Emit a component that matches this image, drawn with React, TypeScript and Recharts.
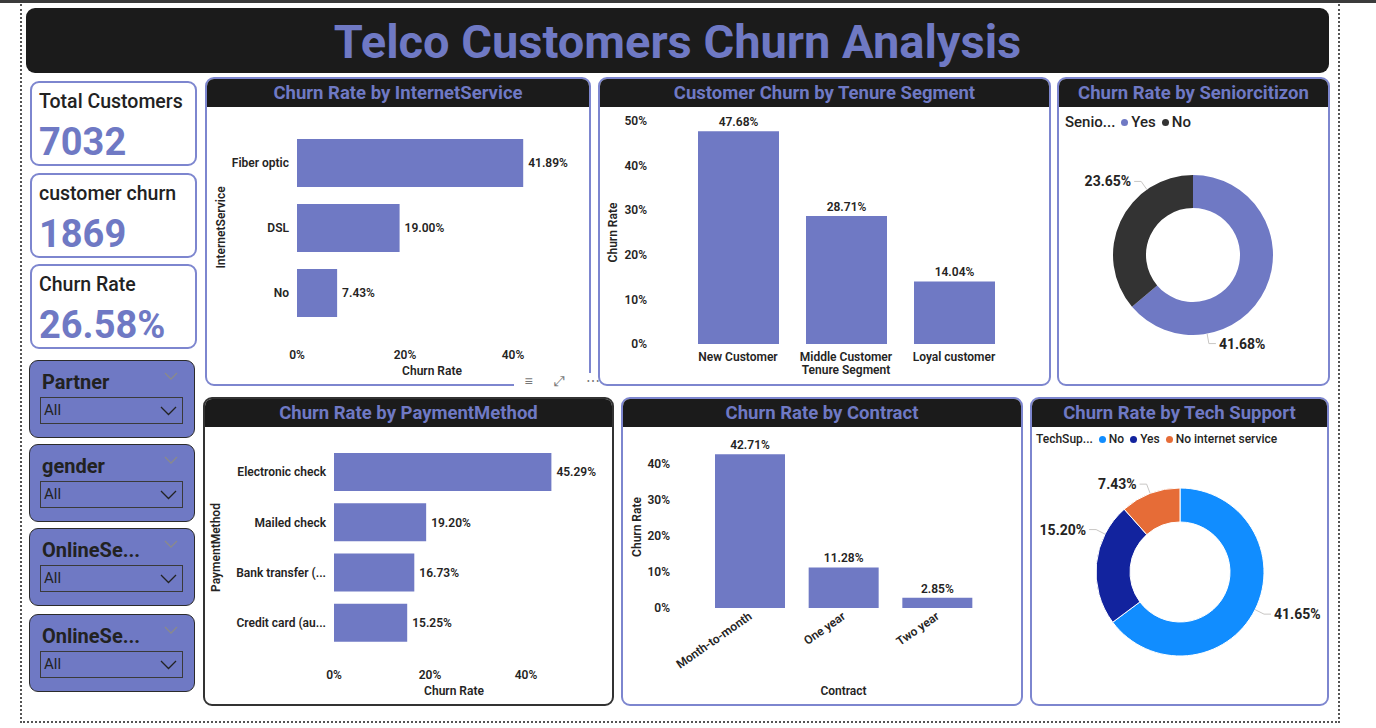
import React from "react";
import { BarChart, Bar, XAxis, YAxis, LabelList, PieChart, Pie, Cell } from "recharts";

const PURPLE = "#6f79c4";
const BORDER = "#7d86cf";
const TEXT = "#252423";
const FONT = "Roboto, 'Open Sans', sans-serif";

const internetServices = ["Fiber optic", "DSL", "No"];
const internetChurn = [41.89, 19.0, 7.43];

const tenureSegments = ["New Customer", "Middle Customer", "Loyal customer"];
const tenureChurn = [47.68, 28.71, 14.04];

const seniorLabels = ["Yes", "No"];
const seniorChurn = [41.68, 23.65];
const seniorColors = [PURPLE, "#333333"];

const paymentMethods = ["Electronic check", "Mailed check", "Bank transfer (automatic)", "Credit card (automatic)"];
const paymentChurn = [45.29, 19.2, 16.73, 15.25];

const contracts = ["Month-to-month", "One year", "Two year"];
const contractChurn = [42.71, 11.28, 2.85];

const techSupport = ["No", "Yes", "No internet service"];
const techChurn = [41.65, 15.2, 7.43];
const techColors = ["#118dff", "#12239e", "#e66c37"];

const kpiTitles = ["Total Customers", "customer churn", "Churn Rate"];
const kpiValues = ["7032", "1869", "26.58%"];

const slicerNames = ["Partner", "gender", "OnlineSecurity", "OnlineService"];

const pct = (v: number) => `${v.toFixed(2)}%`;
const axisPct = (v: number) => `${v}%`;
const trunc = (s: string, n: number) => (s.length > n + 1 ? s.slice(0, n) + "..." : s);

const tickStyle = { fontSize: 12, fontWeight: 600, fill: TEXT, fontFamily: FONT };
const labelStyle = { fontSize: 12, fontWeight: 600, fill: TEXT, fontFamily: FONT };

function Panel({ left, top, width, height, title, border = BORDER, children }: any) {
  return (
    <div
      style={{
        position: "absolute",
        left,
        top,
        width,
        height,
        boxSizing: "border-box",
        border: `2px solid ${border}`,
        borderRadius: 9,
        background: "#fff",
        overflow: "hidden",
      }}
    >
      <div
        style={{
          height: 28,
          background: "#1b1b1b",
          color: PURPLE,
          fontWeight: 700,
          fontSize: 18.5,
          textAlign: "center",
          lineHeight: "28px",
        }}
      >
        {title}
      </div>
      {children}
    </div>
  );
}

function Chevron({ color, w = 14 }: { color: string; w?: number }) {
  return (
    <svg width={w} height={w / 2 + 1} style={{ display: "block" }}>
      <polyline points={`1,1 ${w / 2},${w / 2} ${w - 1},1`} fill="none" stroke={color} strokeWidth={1.3} />
    </svg>
  );
}

function makeDonutLabel(shifts: number[]) {
  return (p: any) => {
    const RAD = Math.PI / 180;
    const a = (p.midAngle + (shifts[p.index] || 0)) * RAD;
    const cos = Math.cos(a);
    const sin = -Math.sin(a);
    const sx = p.cx + p.outerRadius * cos;
    const sy = p.cy + p.outerRadius * sin;
    const mx = p.cx + (p.outerRadius + 10) * cos;
    const my = p.cy + (p.outerRadius + 10) * sin;
    const right = cos >= 0;
    const ex = mx + (right ? 7 : -7);
    return (
      <g>
        <polyline points={`${sx},${sy} ${mx},${my} ${ex},${my}`} fill="none" stroke="#c8c6c4" />
        <text
          x={ex + (right ? 3 : -3)}
          y={my}
          textAnchor={right ? "start" : "end"}
          dominantBaseline="central"
          fontSize={14}
          fontWeight={700}
          fill={TEXT}
          fontFamily={FONT}
        >
          {pct(p.value)}
        </text>
      </g>
    );
  };
}

function DonutLegend({ title, names, colors, fontSize, left, top }: any) {
  return (
    <div
      style={{
        position: "absolute",
        left,
        top,
        display: "flex",
        alignItems: "center",
        gap: 6,
        fontSize,
        fontWeight: 500,
        color: TEXT,
        whiteSpace: "nowrap",
      }}
    >
      <span>{title}</span>
      {names.map((n: string, i: number) => (
        <span key={n} style={{ display: "flex", alignItems: "center", gap: 3 }}>
          <span style={{ width: 7, height: 7, borderRadius: 4, background: colors[i], display: "inline-block" }} />
          {n}
        </span>
      ))}
    </div>
  );
}

const RotatedTick = (props: any) => {
  const { x, y, payload } = props;
  return (
    <g transform={`translate(${x},${y})`}>
      <text x={0} y={0} dy={5} textAnchor="end" transform="rotate(-35)" {...tickStyle}>
        {payload.value}
      </text>
    </g>
  );
};

export default function App() {
  const internetData = internetServices.map((name, i) => ({ name, value: internetChurn[i] }));
  const tenureData = tenureSegments.map((name, i) => ({ name, value: tenureChurn[i] }));
  const seniorData = seniorLabels.map((name, i) => ({ name, value: seniorChurn[i] }));
  const paymentData = paymentMethods.map((name, i) => ({ name, value: paymentChurn[i] }));
  const contractData = contracts.map((name, i) => ({ name, value: contractChurn[i] }));
  const techData = techSupport.map((name, i) => ({ name, value: techChurn[i] }));

  return (
    <div
      style={{
        position: "fixed",
        left: 0,
        top: 0,
        width: 1376,
        height: 728,
        background: "#fff",
        fontFamily: FONT,
        overflow: "hidden",
      }}
    >
      {/* top strip + dotted page frame */}
      <div style={{ position: "absolute", left: 0, top: 0, width: 1376, height: 3, background: "#3b3b3b" }} />
      <div
        style={{
          position: "absolute",
          left: 20,
          top: 4,
          width: 1320,
          height: 719,
          boxSizing: "border-box",
          borderLeft: "2px dotted #555",
          borderRight: "2px dotted #555",
          borderBottom: "2px dotted #555",
        }}
      />

      {/* title banner */}
      <div
        style={{
          position: "absolute",
          left: 26,
          top: 8,
          width: 1303,
          height: 65,
          background: "#1b1b1b",
          borderRadius: 9,
          color: PURPLE,
          fontSize: 47,
          fontWeight: 700,
          textAlign: "center",
          lineHeight: "68px",
        }}
      >
        Telco Customers Churn Analysis
      </div>

      {/* KPI cards */}
      {kpiTitles.map((t, i) => (
        <div
          key={t}
          style={{
            position: "absolute",
            left: 30,
            top: [81, 173, 264][i],
            width: 167,
            height: 85,
            boxSizing: "border-box",
            border: `2px solid ${BORDER}`,
            borderRadius: 9,
            background: "#fff",
          }}
        >
          <div style={{ position: "absolute", left: 7, top: 9, fontSize: 19.5, lineHeight: 1, fontWeight: 500, color: "#222" }}>{t}</div>
          <div style={{ position: "absolute", left: 7, top: 40, fontSize: 38, lineHeight: 1, fontWeight: 700, color: PURPLE }}>
            {kpiValues[i]}
          </div>
        </div>
      ))}

      {/* slicers */}
      {slicerNames.map((s, i) => (
        <div
          key={i}
          style={{
            position: "absolute",
            left: 29,
            top: [360, 444, 528, 614][i],
            width: 166,
            height: 78,
            boxSizing: "border-box",
            border: "1.5px solid #2b2b2b",
            borderRadius: 9,
            background: PURPLE,
          }}
        >
          <div style={{ position: "absolute", left: 12, top: 11, fontSize: 20, lineHeight: 1, fontWeight: 700, color: "#222" }}>
            {trunc(s, 8)}
          </div>
          <div style={{ position: "absolute", left: 134, top: 11 }}>
            <Chevron color="#8a8a8a" />
          </div>
          <div
            style={{
              position: "absolute",
              left: 10,
              top: 36,
              width: 143,
              height: 27,
              boxSizing: "border-box",
              border: "1px solid #3a3a3a",
            }}
          >
            <div style={{ position: "absolute", left: 3, top: 5, fontSize: 15, lineHeight: 1, color: "#222" }}>All</div>
            <div style={{ position: "absolute", right: 5, top: 8 }}>
              <Chevron color="#222" w={17} />
            </div>
          </div>
        </div>
      ))}

      {/* Churn Rate by InternetService */}
      <Panel left={205} top={77} width={386} height={309} title="Churn Rate by InternetService">
        <BarChart width={382} height={276} data={internetData} layout="vertical" margin={{ top: 23, right: 22, bottom: 8, left: 8 }}>
          <XAxis
            type="number"
            domain={[0, 50]}
            ticks={[0, 20, 40]}
            tickFormatter={axisPct}
            axisLine={false}
            tickLine={false}
            tick={tickStyle}
            tickMargin={19}
            height={50}
            label={{ value: "Churn Rate", position: "insideBottom", offset: 0, style: labelStyle }}
          />
          <YAxis
            type="category"
            dataKey="name"
            width={82}
            axisLine={false}
            tickLine={false}
            tick={tickStyle}
            label={{ value: "InternetService", angle: -90, position: "insideLeft", offset: 6, style: { ...labelStyle, textAnchor: "middle" } }}
          />
          <Bar dataKey="value" fill={PURPLE} barSize={48} isAnimationActive={false}>
            <LabelList dataKey="value" position="right" offset={5} formatter={(v: any) => pct(v)} style={labelStyle} />
          </Bar>
        </BarChart>
      </Panel>

      {/* visual header icons */}
      <div
        style={{
          position: "absolute",
          left: 514,
          top: 373,
          width: 96,
          height: 17,
          background: "#fff",
          color: "#777",
          fontSize: 14,
          lineHeight: "17px",
          display: "flex",
          justifyContent: "space-around",
        }}
      >
        <span>≡</span>
        <span>⤢</span>
        <span>⋯</span>
      </div>

      {/* Customer Churn by Tenure Segment */}
      <Panel left={598} top={77} width={453} height={309} title="Customer Churn by Tenure Segment">
        <BarChart width={449} height={276} data={tenureData} margin={{ top: 14, right: 41, bottom: 8, left: 3 }}>
          <XAxis
            dataKey="name"
            axisLine={false}
            tickLine={false}
            tick={tickStyle}
            tickMargin={2}
            height={31}
            interval={0}
            label={{ value: "Tenure Segment", position: "insideBottom", offset: 1, style: labelStyle }}
          />
          <YAxis
            type="number"
            domain={[0, 50]}
            ticks={[0, 10, 20, 30, 40, 50]}
            tickFormatter={axisPct}
            width={81}
            axisLine={false}
            tickLine={false}
            tick={tickStyle}
            tickMargin={31}
            label={{ value: "Churn Rate", angle: -90, position: "insideLeft", offset: 10, style: { ...labelStyle, textAnchor: "middle" } }}
          />
          <Bar dataKey="value" fill={PURPLE} barSize={81} isAnimationActive={false}>
            <LabelList dataKey="value" position="top" offset={5} formatter={(v: any) => pct(v)} style={labelStyle} />
          </Bar>
        </BarChart>
      </Panel>

      {/* Churn Rate by Seniorcitizon */}
      <Panel left={1057} top={77} width={273} height={309} title="Churn Rate by Seniorcitizon">
        <DonutLegend title="Senio..." names={seniorLabels} colors={seniorColors} fontSize={15} left={6} top={34} />
        <div style={{ position: "absolute", left: 0, top: 28 }}>
          <PieChart width={269} height={276} margin={{ top: 0, right: 0, bottom: 0, left: 0 }}>
            <Pie
              data={seniorData}
              dataKey="value"
              nameKey="name"
              cx={134}
              cy={148}
              innerRadius={47}
              outerRadius={80}
              startAngle={90}
              endAngle={-270}
              stroke="none"
              labelLine={false}
              label={makeDonutLabel([-55, -30])}
              isAnimationActive={false}
            >
              {seniorData.map((d, i) => (
                <Cell key={d.name} fill={seniorColors[i]} />
              ))}
            </Pie>
          </PieChart>
        </div>
      </Panel>

      {/* Churn Rate by PaymentMethod */}
      <Panel left={203} top={397} width={411} height={309} title="Churn Rate by PaymentMethod" border="#333">
        <BarChart width={407} height={276} data={paymentData} layout="vertical" margin={{ top: 20, right: 38, bottom: 8, left: 3 }}>
          <XAxis
            type="number"
            domain={[0, 50]}
            ticks={[0, 20, 40]}
            tickFormatter={axisPct}
            axisLine={false}
            tickLine={false}
            tick={tickStyle}
            tickMargin={16}
            height={47}
            label={{ value: "Churn Rate", position: "insideBottom", offset: 0, style: labelStyle }}
          />
          <YAxis
            type="category"
            dataKey="name"
            width={126}
            axisLine={false}
            tickLine={false}
            tick={tickStyle}
            tickFormatter={(s: string) => trunc(s, 15)}
            label={{ value: "PaymentMethod", angle: -90, position: "insideLeft", offset: 8, style: { ...labelStyle, textAnchor: "middle" } }}
          />
          <Bar dataKey="value" fill={PURPLE} barSize={38} isAnimationActive={false}>
            <LabelList dataKey="value" position="right" offset={5} formatter={(v: any) => pct(v)} style={labelStyle} />
          </Bar>
        </BarChart>
      </Panel>

      {/* Churn Rate by Contract */}
      <Panel left={621} top={397} width={402} height={309} title="Churn Rate by Contract">
        <BarChart width={398} height={276} data={contractData} margin={{ top: 19, right: 37, bottom: 8, left: 3 }}>
          <XAxis
            dataKey="name"
            axisLine={false}
            tickLine={false}
            tick={<RotatedTick />}
            tickMargin={0}
            height={87}
            interval={0}
            label={{ value: "Contract", position: "insideBottom", offset: 0, style: labelStyle }}
          />
          <YAxis
            type="number"
            domain={[0, 45]}
            ticks={[0, 10, 20, 30, 40]}
            tickFormatter={axisPct}
            width={77}
            axisLine={false}
            tickLine={false}
            tick={tickStyle}
            tickMargin={27}
            label={{ value: "Churn Rate", angle: -90, position: "insideLeft", offset: 11, style: { ...labelStyle, textAnchor: "middle" } }}
          />
          <Bar dataKey="value" fill={PURPLE} barSize={70} isAnimationActive={false}>
            <LabelList dataKey="value" position="top" offset={5} formatter={(v: any) => pct(v)} style={labelStyle} />
          </Bar>
        </BarChart>
      </Panel>

      {/* Churn Rate by Tech Support */}
      <Panel left={1030} top={397} width={299} height={309} title="Churn Rate by Tech Support">
        <DonutLegend title="TechSup..." names={techSupport} colors={techColors} fontSize={12} left={4} top={33} />
        <div style={{ position: "absolute", left: 0, top: 28 }}>
          <PieChart width={295} height={276} margin={{ top: 0, right: 0, bottom: 0, left: 0 }}>
            <Pie
              data={techData}
              dataKey="value"
              nameKey="name"
              cx={148}
              cy={145}
              innerRadius={50}
              outerRadius={84}
              startAngle={90}
              endAngle={-270}
              stroke="#fff"
              strokeWidth={1}
              labelLine={false}
              label={makeDonutLabel([0, -21, 0])}
              isAnimationActive={false}
            >
              {techData.map((d, i) => (
                <Cell key={d.name} fill={techColors[i]} />
              ))}
            </Pie>
          </PieChart>
        </div>
      </Panel>
    </div>
  );
}
